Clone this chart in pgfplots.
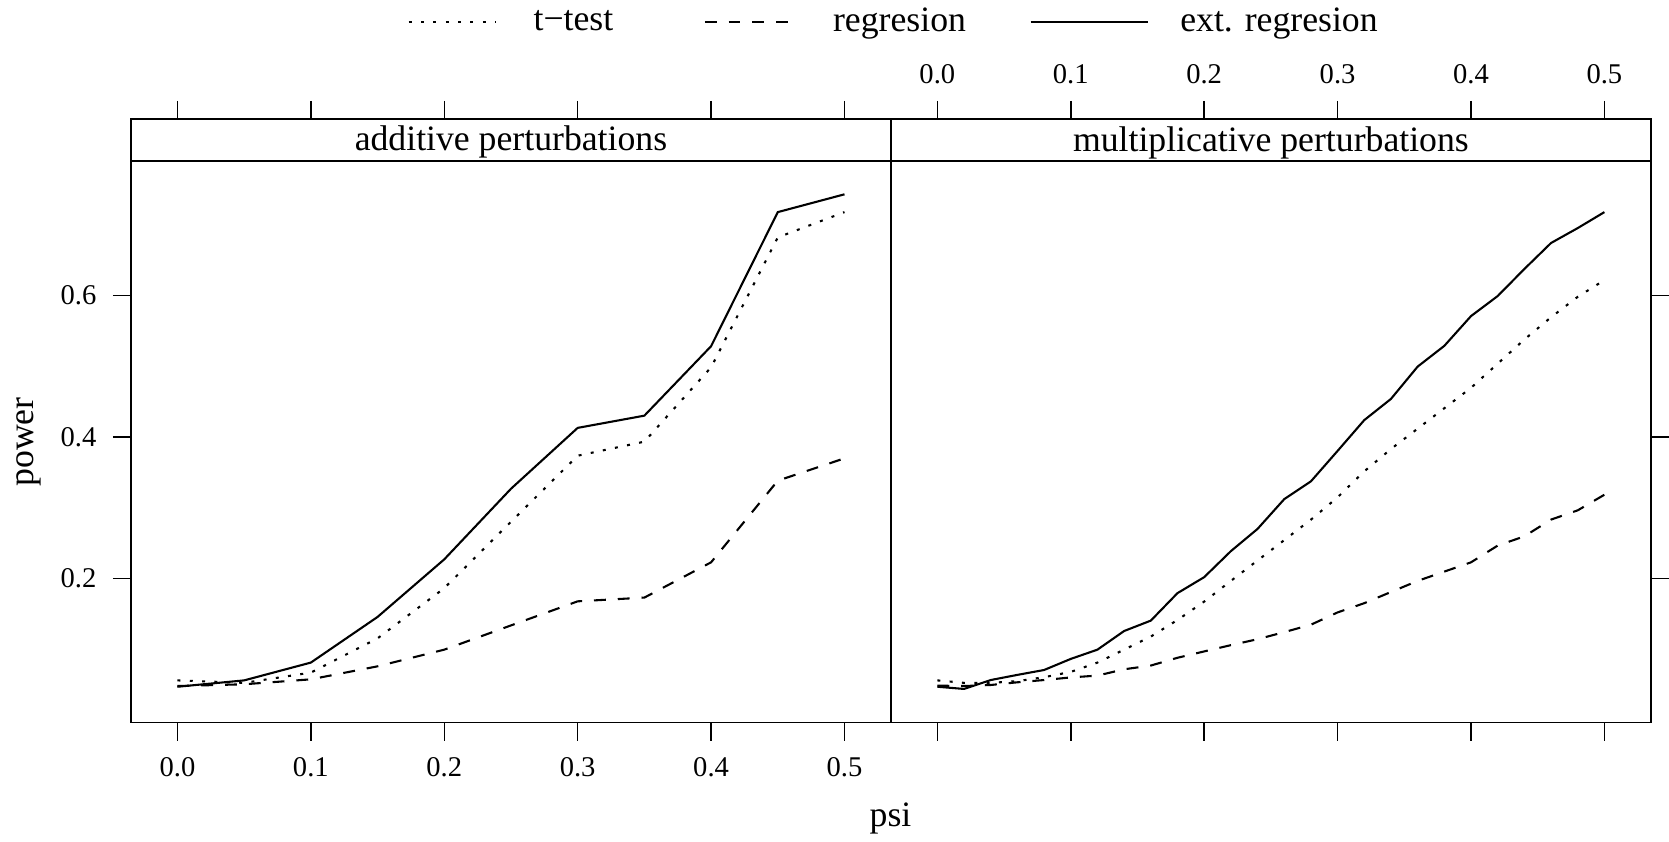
\documentclass[border=0pt]{standalone}
\usepackage{fontspec}
\setmainfont{Liberation Serif}
\usepackage{pgfplots}
\pgfplotsset{compat=1.18}

\pgfplotstableread{
x     ttest   reg     ext
0.00  0.0555  0.0475  0.0465
0.05  0.0520  0.0500  0.0555
0.10  0.0665  0.0570  0.0807
0.15  0.1150  0.0754  0.1453
0.20  0.1860  0.0990  0.2268
0.25  0.2800  0.1333  0.3267
0.30  0.3735  0.1674  0.4129
0.35  0.3934  0.1727  0.4302
0.40  0.4986  0.2226  0.5285
0.45  0.6825  0.3382  0.7183
0.50  0.7183  0.3698  0.7435
}\additive

\pgfplotstableread{
x     ttest   reg     ext
0.00  0.0555  0.0481  0.0465
0.02  0.0520  0.0475  0.0434
0.04  0.0520  0.0490  0.0560
0.06  0.0544  0.0528  0.0633
0.08  0.0600  0.0560  0.0702
0.10  0.0675  0.0597  0.0859
0.12  0.0807  0.0623  0.0990
0.14  0.0990  0.0712  0.1254
0.16  0.1175  0.0765  0.1401
0.18  0.1410  0.0875  0.1790
0.20  0.1670  0.0965  0.2016
0.22  0.1963  0.1054  0.2384
0.24  0.2252  0.1138  0.2699
0.26  0.2540  0.1238  0.3120
0.28  0.2830  0.1343  0.3372
0.30  0.3146  0.1517  0.3803
0.32  0.3514  0.1648  0.4239
0.34  0.3830  0.1806  0.4539
0.36  0.4118  0.1963  0.4996
0.38  0.4407  0.2095  0.5290
0.40  0.4696  0.2226  0.5711
0.42  0.5038  0.2463  0.5995
0.44  0.5380  0.2594  0.6378
0.46  0.5695  0.2831  0.6746
0.48  0.5984  0.2962  0.6957
0.50  0.6221  0.3183  0.7183
}\multiplicative

\tikzset{
  tdot/.style={line width=0.7pt, dash pattern=on 1pt off 3.15pt},
  tdash/.style={line width=0.7pt, dash pattern=on 4pt off 4pt},
  tsolid/.style={line width=0.7pt},
}

\pgfplotsset{
  panel/.style={
    scale only axis, width=255.33pt, height=202.84pt,
    anchor=south west,
    xmin=-0.0348, xmax=0.5348, ymin=-0.0044, ymax=0.8501,
    axis line style={line width=0.5pt},
    every tick/.style={line width=0.5pt, black},
    major tick length=6.05pt,
    tick align=outside,
    xtick={0,0.1,0.2,0.3,0.4,0.5},
    ytick={0.2,0.4,0.6},
    minor tick num=0,
    ticklabel style={font=\fontsize{9.6}{11}\selectfont, inner sep=0pt},
    /pgf/number format/assume math mode=true,
    xticklabel style={/pgf/number format/.cd, fixed, fixed zerofill, precision=1},
    yticklabel style={/pgf/number format/.cd, fixed, fixed zerofill, precision=1},
    xticklabel shift=5.5pt,
    yticklabel shift=5.4pt,
    every axis plot/.append style={black},
  },
}

\begin{document}
\begin{tikzpicture}
\useasboundingbox (0pt,0pt) rectangle (560.78pt,282.58pt);

\begin{axis}[panel, at={(44.016pt,39.749pt)},
    xticklabel pos=left, xtick pos=both,
    yticklabel pos=left, ytick pos=left,
    legend style={at={(axis description cs:0.3641,1.1602)}, anchor=west,
      draw=none, fill=none, inner sep=0pt, outer sep=0pt,
      font=\fontsize{12}{14}\selectfont, nodes={inner sep=0pt},
      /tikz/column sep=0pt},
    legend columns=3, legend cell align=left]
  \addplot[tdot, forget plot] table[x=x,y=ttest] {\additive};
  \addplot[tdash, forget plot] table[x=x,y=reg] {\additive};
  \addplot[tsolid, forget plot] table[x=x,y=ext] {\additive};
  \draw[line width=0.5pt] (axis cs:-0.0348,0.7907) -- (axis cs:0.5348,0.7907);
  \node[anchor=base, font=\fontsize{12}{14}\selectfont, inner sep=0pt] at (axis cs:0.25,0.8048) {additive perturbations};
  \addlegendimage{legend image code/.code={\draw[tdot] (0pt,0pt) -- (29.33pt,0pt); \path (41.76pt,0pt);}}
  \addlegendentry{t−test}
  \addlegendimage{legend image code/.code={\path (-30.54pt,0pt); \draw[tdash] (0pt,0pt) -- (28.63pt,0pt); \path (42.91pt,0pt);}}
  \addlegendentry{regresion}
  \addlegendimage{legend image code/.code={\path (-21.5pt,0pt); \draw[tsolid] (0pt,0pt) -- (39.31pt,0pt); \path (50.13pt,0pt);}}
  \addlegendentry{ext. regresion}
\end{axis}

\begin{axis}[panel, at={(299.34pt,39.749pt)},
    xticklabel pos=right, xtick pos=both,
    ytick pos=right, yticklabels={,,}]
  \addplot[tdot] table[x=x,y=ttest] {\multiplicative};
  \addplot[tdash] table[x=x,y=reg] {\multiplicative};
  \addplot[tsolid] table[x=x,y=ext] {\multiplicative};
  \draw[line width=0.5pt] (axis cs:-0.0348,0.7907) -- (axis cs:0.5348,0.7907);
  \node[anchor=base, font=\fontsize{12}{14}\selectfont, inner sep=0pt] at (axis cs:0.25,0.8048) {multiplicative perturbations};
\end{axis}

\node[rotate=90, font=\fontsize{12}{14}\selectfont, inner sep=0pt] at (9.744pt,134.06pt) {power};
\node[anchor=base, font=\fontsize{12}{14}\selectfont, inner sep=0pt] at (299.21pt,4.80pt) {psi};
\end{tikzpicture}
\end{document}
